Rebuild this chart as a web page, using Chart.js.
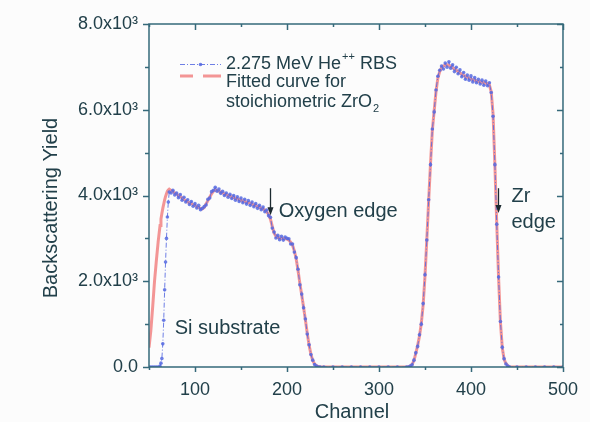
<!DOCTYPE html>
<html><head><meta charset="utf-8">
<script src="https://cdn.jsdelivr.net/npm/chart.js@4/dist/chart.umd.min.js"></script>
<style>html,body{margin:0;padding:0;background:#fcfcfc;overflow:hidden}</style>
</head><body>
<canvas id="c" width="590" height="422" style="width:590px;height:422px;display:block"></canvas>
<script>
// ---- data ----
const channels = [
 50,52,54,56,58,60,62,63,64,65,66,67,68,69,70,71,72,
 74,76,78,80,82,84,86,88,90,92,94,96,98,100,102,104,106,108,
 110,112,114,116,118,120,122,124,126,128,130,
 132,134,136,138,140,142,144,146,148,150,
 152,154,156,158,160,162,164,166,168,170,
 172,174,176,178,180,182,184,186,188,190,
 192,194,196,198,200,202,204,206,208,210,
 212,214,216,218,220,222,224,226,228,230,232,
 234,236,240,250,260,270,280,290,300,310,320,330,332,
 334,336,338,340,342,344,346,348,350,352,354,356,358,360,362,364,366,368,
 370,372,374,376,378,380,382,384,386,388,390,
 392,394,396,398,400,402,404,406,408,410,
 412,414,416,418,420,422,424,426,428,430,
 432,434,436,438,440,442,
 450,460,470,480,490,500
];
const rbsCounts = [
 0,0,0,0,0,0,20,90,200,540,1090,1800,2450,3000,3500,3850,4080,
 4060,4120,4010,4060,3950,4020,3890,3960,3850,3900,3790,3860,3750,3810,3710,3770,3670,3700,
 3740,3780,3910,3940,4090,4120,4190,4100,4150,4050,4100,
 4000,4060,3960,4030,3930,4000,3890,3970,3860,3940,
 3830,3910,3800,3880,3770,3850,3740,3810,3700,3770,
 3670,3730,3620,3660,3530,3490,3240,3150,3010,3070,
 2970,3050,2960,3030,3000,2990,2870,2870,2680,2550,
 2280,1920,1700,1380,1120,770,520,290,160,60,20,
 0,0,0,0,0,0,0,0,0,0,0,0,0,
 20,50,160,330,480,750,1000,1480,2150,2960,3900,4720,5550,5950,6460,6780,6920,7020,
 6950,7090,6990,7120,6970,7050,6890,6990,6840,6930,6770,
 6870,6710,6810,6690,6790,6650,6750,6630,6710,6600,
 6690,6570,6670,6560,6630,6400,5850,4720,3330,2100,
 1060,460,190,70,20,0,
 0,0,0,0,0,0
];
const fitCounts = [
 450,850,1400,2000,2480,2930,3300,3450,3580,3700,3800,3900,3980,4040,4100,4130,4150,
 4120,4090,4060,4030,4000,3970,3940,3910,3880,3850,3830,3810,3790,3770,3740,3720,3700,3690,
 3720,3800,3880,3960,4040,4100,4130,4120,4100,4080,4060,
 4040,4020,4000,3985,3970,3950,3935,3920,3905,3890,
 3875,3860,3845,3830,3815,3800,3780,3765,3745,3725,
 3705,3685,3660,3620,3560,3450,3280,3120,3050,3020,
 3010,3000,2995,2990,2985,2960,2910,2840,2710,2520,
 2250,1950,1680,1400,1100,790,510,300,150,70,30,
 10,0,0,0,0,0,0,0,0,0,0,0,5,
 20,60,150,320,500,720,1020,1450,2120,2980,3880,4740,5520,5980,6430,6740,6890,6980,
 7020,7040,7050,7040,7010,6980,6950,6920,6890,6860,6830,
 6800,6780,6760,6740,6720,6700,6690,6670,6660,6650,
 6640,6630,6620,6610,6580,6420,5900,4700,3350,2080,
 1050,450,180,80,30,0,
 0,0,0,0,0,0
];
const xTicks = [100,200,300,400,500];
const yTicks = [0,2000,4000,6000,8000];
const xRange = [50,500];
const yRange = [0,8000];
const seriesNames = ['2.275 MeV He', 'Fitted curve for', 'stoichiometric ZrO'];
const notes = [
 {text:'Si substrate', ch:78, y:900},
 {text:'Oxygen edge', ch:191, y:3630},
 {text:'Zr', ch:444, y:3970},
 {text:'edge', ch:444, y:3360}
];
const arrows = [
 {ch:181.6, from:4170, to:3540},
 {ch:429.6, from:4170, to:3590}
];

// ---- styles ----
const FONT = '"Liberation Sans", Arial, Helvetica, sans-serif';
const AXIS = '#35697a';
const TEXT = '#22404a';
const BLUE = 'rgba(85,105,225,0.85)';
const RED = 'rgba(240,115,115,0.75)';

function pts(ys){ return channels.map((c,i)=>({x:c, y:ys[i]})); }

const decor = {
 id:'decor',
 beforeDraw(chart){
  const ctx = chart.ctx;
  ctx.save(); ctx.fillStyle = '#fcfcfc'; ctx.fillRect(0,0,chart.width,chart.height); ctx.restore();
 },
 afterDatasetsDraw(chart){
  const ctx = chart.ctx, xs = chart.scales.x, ys = chart.scales.y;
  const {left,right,top,bottom} = chart.chartArea;
  ctx.save();
  ctx.strokeStyle = AXIS; ctx.lineWidth = 1.5; ctx.setLineDash([]);
  ctx.strokeRect(left, top, right-left, bottom-top);
  ctx.beginPath();
  for (let v = xRange[0]; v <= xRange[1]; v += 50) {
   const p = Math.round(xs.getPixelForValue(v)) + 0.5;
   const major = v % 100 === 0;
   ctx.moveTo(p, bottom); ctx.lineTo(p, bottom + (major ? 5 : 3));
   ctx.moveTo(p, top); ctx.lineTo(p, top + (major ? 6 : 3));
  }
  for (let v = yRange[0]; v <= yRange[1]; v += 1000) {
   const p = Math.round(ys.getPixelForValue(v)) + 0.5;
   const major = v % 2000 === 0;
   ctx.moveTo(left, p); ctx.lineTo(left - (major ? 6 : 4), p);
   ctx.moveTo(right, p); ctx.lineTo(right - (major ? 6 : 3), p);
  }
  ctx.stroke();

  // axis titles
  ctx.fillStyle = TEXT;
  ctx.font = '20px ' + FONT;
  ctx.textAlign = 'center'; ctx.textBaseline = 'middle';
  ctx.fillText('Channel', (left+right)/2 - 4, 412);
  ctx.save();
  ctx.translate(51, 208); ctx.rotate(-Math.PI/2);
  ctx.fillText('Backscattering Yield', 0, 0);
  ctx.restore();

  // legend
  ctx.font = '18px ' + FONT; ctx.textAlign = 'left'; ctx.textBaseline = 'middle';
  ctx.strokeStyle = BLUE; ctx.lineWidth = 1; ctx.setLineDash([5,2,1,2]);
  ctx.beginPath(); ctx.moveTo(180, 64.5); ctx.lineTo(221, 64.5); ctx.stroke();
  ctx.setLineDash([]);
  ctx.fillStyle = BLUE; ctx.beginPath(); ctx.arc(200.5, 64.5, 1.8, 0, Math.PI*2); ctx.fill();
  ctx.strokeStyle = RED; ctx.lineWidth = 3;
  ctx.beginPath(); ctx.moveTo(180, 76); ctx.lineTo(193, 76); ctx.moveTo(203, 76); ctx.lineTo(221, 76); ctx.stroke();
  ctx.fillStyle = TEXT;
  let x0 = 226;
  ctx.fillText(seriesNames[0], x0, 64);
  let w = ctx.measureText(seriesNames[0]).width;
  ctx.font = '11px ' + FONT;
  ctx.fillText('++', x0 + w + 1, 57);
  let w2 = ctx.measureText('++').width;
  ctx.font = '18px ' + FONT;
  ctx.fillText(' RBS', x0 + w + w2 + 1, 64);
  ctx.fillText(seriesNames[1], x0, 82);
  ctx.fillText(seriesNames[2], x0, 102);
  w = ctx.measureText(seriesNames[2]).width;
  ctx.font = '11px ' + FONT;
  ctx.fillText('2', x0 + w + 1, 109);

  // annotations
  ctx.font = '20px ' + FONT; ctx.fillStyle = TEXT;
  notes.forEach(n => ctx.fillText(n.text, xs.getPixelForValue(n.ch), ys.getPixelForValue(n.y)));
  ctx.strokeStyle = '#1c2a30'; ctx.fillStyle = '#1c2a30'; ctx.lineWidth = 1.3;
  arrows.forEach(a => {
   const px = Math.round(xs.getPixelForValue(a.ch)) + 0.5;
   const y1 = ys.getPixelForValue(a.from), y2 = ys.getPixelForValue(a.to);
   ctx.beginPath(); ctx.moveTo(px, y1); ctx.lineTo(px, y2 - 6); ctx.stroke();
   ctx.beginPath(); ctx.moveTo(px - 3, y2 - 8); ctx.lineTo(px + 3, y2 - 8); ctx.lineTo(px, y2); ctx.closePath(); ctx.fill();
  });
  ctx.restore();
 }
};

new Chart(document.getElementById('c'), {
 type: 'line',
 data: {
  datasets: [
   { label: '2.275 MeV He++ RBS', data: pts(rbsCounts), borderColor: BLUE, borderWidth: 1,
     borderDash: [5,2,1,2], pointRadius: 1.8, pointBackgroundColor: BLUE, pointBorderWidth: 0, tension: 0 },
   { label: 'Fitted curve for stoichiometric ZrO2', data: pts(fitCounts), borderColor: RED, borderWidth: 3,
     pointRadius: 0, tension: 0 }
  ]
 },
 options: {
  responsive: false, animation: false, devicePixelRatio: 1,
  layout: { padding: { left: 0, right: 17, top: 24, bottom: 0 } },
  plugins: { legend: { display: false }, tooltip: { enabled: false } },
  scales: {
   x: {
    type: 'linear', min: xRange[0], max: xRange[1],
    grid: { display: false, drawTicks: false, tickLength: 0 },
    border: { display: false },
    afterBuildTicks: s => { s.ticks = xTicks.map(v => ({ value: v })); },
    afterFit: s => { s.height = 55; },
    ticks: { color: TEXT, font: { family: FONT, size: 18 }, padding: 12, maxRotation: 0, autoSkip: false,
      callback: v => String(v) }
   },
   y: {
    type: 'linear', min: yRange[0], max: yRange[1],
    grid: { display: false, drawTicks: false, tickLength: 0 },
    border: { display: false },
    afterBuildTicks: s => { s.ticks = yTicks.map(v => ({ value: v })); },
    afterFit: s => { s.width = 149; },
    ticks: { color: TEXT, font: { family: FONT, size: 18 }, padding: 11, autoSkip: false,
      callback: v => v === 0 ? '0.0' : (v/1000).toFixed(1) + 'x10\u00B3' }
   }
  }
 },
 plugins: [decor]
});
</script>
</body></html>
